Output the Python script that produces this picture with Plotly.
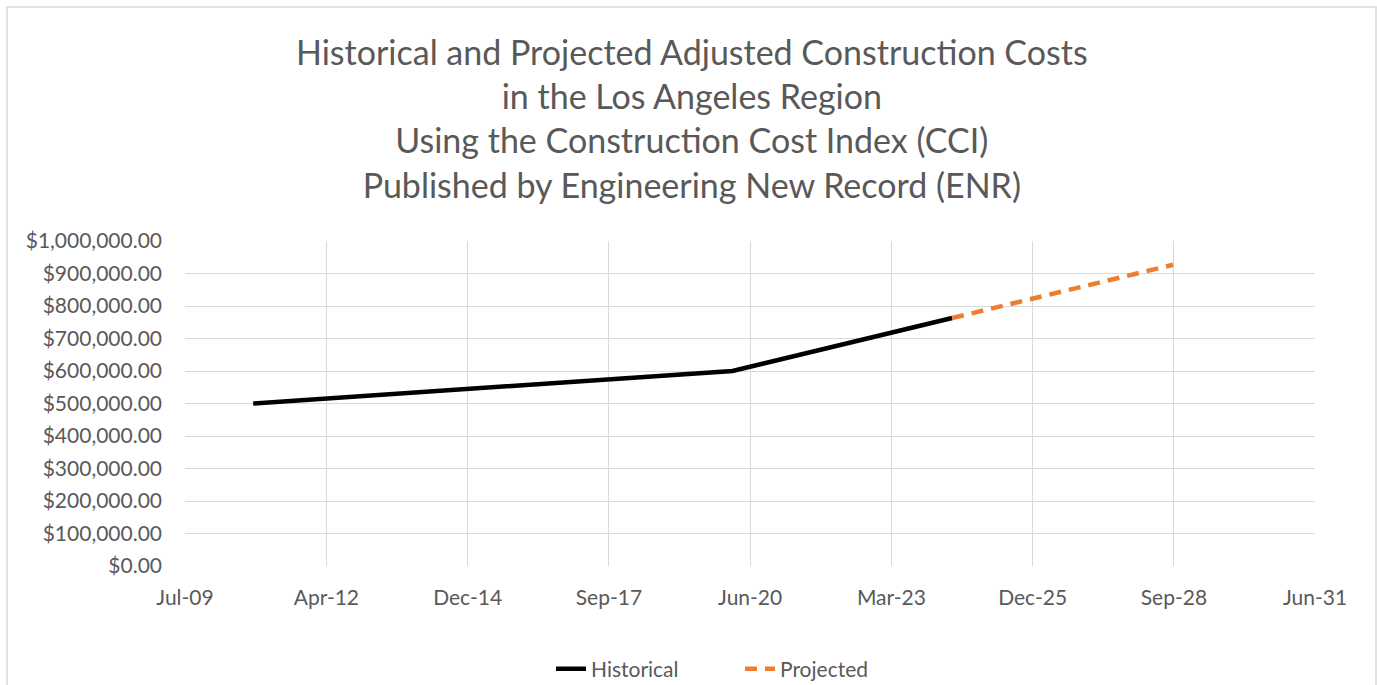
import plotly.graph_objects as go

# Data
hist_dates = ["2010-11-01", "2020-02-15", "2024-05-19"]
hist_values = [500000, 600000, 763000]
proj_dates = ["2024-05-19", "2028-08-31"]
proj_values = [763000, 927000]

tick_dates = ["2009-07-06", "2012-04-02", "2014-12-28", "2017-09-23", "2020-06-19",
              "2023-03-16", "2025-12-10", "2028-09-05", "2031-06-01"]
tick_labels = ["Jul-09", "Apr-12", "Dec-14", "Sep-17", "Jun-20", "Mar-23", "Dec-25", "Sep-28", "Jun-31"]
y_ticks = [0, 100000, 200000, 300000, 400000, 500000, 600000, 700000, 800000, 900000, 1000000]

title_lines = ["Historical and Projected Adjusted Construction Costs",
               "in the Los Angeles Region",
               "Using the Construction Cost Index (CCI)",
               "Published by Engineering New Record (ENR)"]

FONT = "Lato, 'Open Sans', sans-serif"
GREY = "#595959"

fig = go.Figure()
fig.add_trace(go.Scatter(x=hist_dates, y=hist_values, mode="lines", name="Historical",
                         legend="legend",
                         line=dict(color="black", width=4.5)))
fig.add_trace(go.Scatter(x=proj_dates, y=proj_values, mode="lines", name="Projected",
                         legend="legend2",
                         line=dict(color="#ED7D31", width=4.5, dash="12px,8px")))

W, H = 1377, 685
L, R, T, B = 185, 1315, 241, 566
pw, ph = R - L, B - T

def px(x):
    return (x - L) / pw

def py(y):
    return (B - y) / ph

leg_common = dict(orientation="h", xanchor="left", yref="container", y=1 - 669 / H,
                  yanchor="middle", font=dict(family=FONT, size=21, color=GREY),
                  bgcolor="rgba(0,0,0,0)")

fig.update_layout(
    width=W, height=H,
    margin=dict(l=L, r=W - R, t=T, b=H - B, pad=0, autoexpand=False),
    paper_bgcolor="white", plot_bgcolor="white",
    font=dict(family=FONT, color=GREY, size=21),
    showlegend=True,
    legend=dict(x=px(551), **leg_common),
    legend2=dict(x=px(740), **leg_common),
    xaxis=dict(type="date", range=[tick_dates[0], tick_dates[-1]],
               tickvals=tick_dates, ticktext=tick_labels, showgrid=True,
               gridcolor="#d9d9d9", gridwidth=1.3, zeroline=False, showline=False,
               automargin=False,
               ticks="", ticklabelstandoff=17, tickfont=dict(size=21, color=GREY)),
    yaxis=dict(range=[0, 1000000], tickvals=y_ticks, tickformat="$,.2f",
               showgrid=True, gridcolor="#d9d9d9", gridwidth=1.3, zeroline=False,
               showline=False, ticks="", ticklabelstandoff=22, automargin=False,
               tickfont=dict(size=21, color=GREY)),
    shapes=[dict(type="rect", xref="paper", yref="paper",
                 x0=px(7), x1=px(1376), y0=py(720), y1=py(7),
                 line=dict(color="#d9d9d9", width=1.5), fillcolor="rgba(0,0,0,0)",
                 layer="below")],
    annotations=[dict(text="<br>".join(title_lines), xref="paper", yref="paper",
                      x=px(692), y=py(118), xanchor="center", yanchor="middle",
                      showarrow=False, align="center",
                      font=dict(family=FONT, size=34, color=GREY))],
)

fig.write_html("out.html", config={"displayModeBar": False},
               post_script="document.body.style.margin='0px';document.body.style.overflow='hidden';")
